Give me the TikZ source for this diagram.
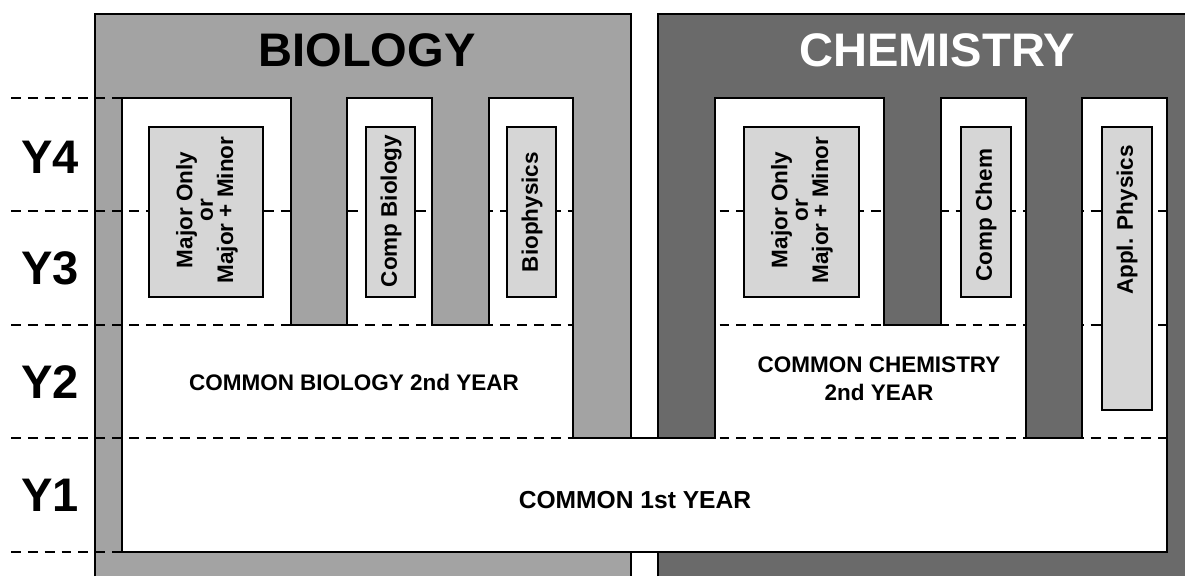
\documentclass[tikz,border=0pt]{standalone}
\usepackage{fontspec}
\setmainfont{Liberation Sans}
\usepackage{tikz}
\usetikzlibrary{positioning}

\definecolor{biogray}{RGB}{163,163,163}
\definecolor{chemgray}{RGB}{106,106,106}
\definecolor{trackgray}{RGB}{214,214,214}

% outline of the white programme area (pixel units, y downwards)
\newcommand{\progarea}{(122,552) -- (122,98) -- (291,98) -- (291,325) -- (347,325) -- (347,98)
  -- (432,98) -- (432,325) -- (489,325) -- (489,98) -- (573,98) -- (573,438) -- (715,438)
  -- (715,98) -- (884,98) -- (884,325) -- (941,325) -- (941,98) -- (1026,98) -- (1026,438)
  -- (1082,438) -- (1082,98) -- (1167,98) -- (1167,552) -- cycle}

\tikzset{
  outline/.style={line width=0.45pt},
  yearline/.style={line width=0.45pt,dash pattern=on 2.8pt off 2pt},
  track/.style={draw,line width=0.45pt,fill=trackgray},
  bigtext/.style={font=\fontsize{13.4}{14}\selectfont\bfseries,inner sep=0pt},
  tracktext/.style={font=\fontsize{6.4}{5.8}\selectfont\bfseries,align=center,inner sep=0pt,rotate=90},
  commontext/.style={font=\fontsize{6.4}{8}\selectfont\bfseries,align=center,inner sep=0pt}
}

\begin{document}
\begin{tikzpicture}[x=0.1mm,y=-0.1mm]
  \useasboundingbox (0,0) rectangle (1185,576);
  % department panels
  \fill[biogray] (95,14) rectangle (631,576);
  \draw[outline] (95,576) -- (95,14) -- (631,14) -- (631,576);
  \fill[chemgray] (658,14) rectangle (1185,576);
  \draw[outline] (658,576) -- (658,14) -- (1185,14);
  \node[bigtext] (bio) at (367,50) {BIOLOGY};
  \node[bigtext,text=white] (chem) at (937,50) {CHEMISTRY};
  % programme area and year lines
  \fill[white] \progarea;
  \begin{scope}
    \clip \progarea (0,0) rectangle (122,576);
    \foreach \y in {98,211,325,438,552}
      \draw[yearline] (11,\y) -- (1167,\y);
  \end{scope}
  \draw[outline] \progarea;
  % year labels
  \node[bigtext] (y4) at (50,157) {Y4};
  \node[bigtext] (y3) at (50,268) {Y3};
  \node[bigtext] (y2) at (50,382) {Y2};
  \node[bigtext] (y1) at (50,495) {Y1};
  % biology tracks
  \draw[track] (149,127) rectangle (263,297);
  \node[tracktext] (biomajor) at (207,210) {Major Only\\or\\Major + Minor};
  \draw[track] (366,127) rectangle (415,297);
  \node[tracktext] (biocomp) at (391,211) {Comp Biology};
  \draw[track] (507,127) rectangle (556,297);
  \node[tracktext] (biophys) at (532,212) {Biophysics};
  % chemistry tracks
  \draw[track] (744,127) rectangle (859,297);
  \node[tracktext] (chemmajor) at (802,210) {Major Only\\or\\Major + Minor};
  \draw[track] (961,127) rectangle (1011,297);
  \node[tracktext] (chemcomp) at (986,215) {Comp Chem};
  \draw[track] (1102,127) rectangle (1152,410);
  \node[tracktext] (applphys) at (1127,220) {Appl. Physics};
  % common years
  \node[commontext] (bioyr2) at (354,382) {COMMON BIOLOGY 2nd YEAR};
  \node[commontext] (chemyr2) at (879,379) {COMMON CHEMISTRY\\2nd YEAR};
  \node[commontext,font=\fontsize{7}{8}\selectfont\bfseries] (yr1) at (635,500) {COMMON 1st YEAR};
\end{tikzpicture}
\end{document}
